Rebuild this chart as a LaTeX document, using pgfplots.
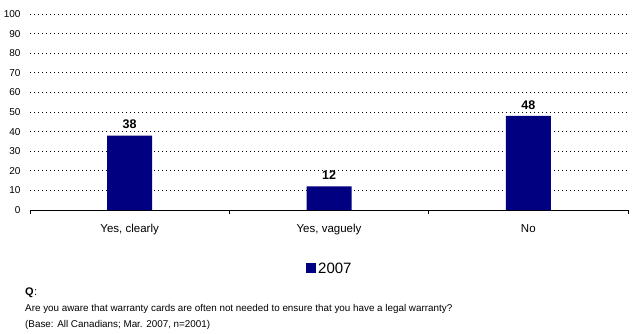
\documentclass[border=0pt]{standalone}
\usepackage{pgfplots}
\pgfplotsset{compat=1.18}
\usepackage{fontspec}
\setmainfont{Liberation Sans}
\definecolor{navybar}{RGB}{0,0,128}
\begin{document}
\begin{tikzpicture}
\useasboundingbox (0pt,0pt) rectangle (637pt,-333pt);
\begin{axis}[
  at={(30pt,-210pt)}, anchor=south west,
  scale only axis, width=598pt, height=196pt,
  xmin=-0.5, xmax=2.5, ymin=0, ymax=100,
  axis x line*=bottom, axis y line*=left,
  x axis line style={line width=0.8pt, -},
  y axis line style={draw=none},
  xtick={-0.5,0.5,1.5,2.5}, xticklabels={},
  extra x ticks={0,1,2}, extra x tick labels={{Yes, clearly},{Yes, vaguely},No},
  extra x tick style={major tick length=0pt, tick label style={font=\fontsize{11.5}{13}\selectfont, yshift=-11pt}},
  major tick length=4pt,
  x tick style={line width=0.8pt, black},
  y tick style={draw=none},
  tick align=outside,
  ytick={0,10,...,100},
  ymajorgrids, grid style={black, line width=0.8pt, dash pattern=on 1.4pt off 2.6pt},
  y tick label style={font=\fontsize{10}{12}\selectfont, xshift=-2pt},
  /pgf/number format/assume math mode=true,
  clip=false,
]
\addplot[ybar, bar width=45pt, fill=navybar, draw=none,
  nodes near coords, every node near coord/.append style={font=\bfseries\fontsize{12.5}{14}\selectfont, yshift=3pt, /pgf/number format/assume math mode=true}]
  coordinates {(0,38) (1,12) (2,48)};
\end{axis}
\fill[navybar] (306pt,-273pt) rectangle (316pt,-263pt);
\node[anchor=west, font=\fontsize{15}{17}\selectfont, inner sep=0pt] at (318pt,-268pt) {2007};
\node[anchor=base west, font=\bfseries\fontsize{11}{13}\selectfont, inner sep=0pt] at (25pt,-295pt) {Q};
\node[anchor=base west, font=\fontsize{11}{13}\selectfont, inner sep=0pt] at (34pt,-295pt) {:};
\node[anchor=base west, font=\fontsize{9.85}{12}\selectfont, inner sep=0pt] at (25pt,-311pt) {Are you aware that warranty cards are often not needed to ensure that you have a legal warranty?};
\node[anchor=base west, font=\fontsize{9.85}{12}\selectfont, inner sep=0pt] at (25pt,-327pt) {(Base: All Canadians; Mar. 2007, n=2001)};
\end{tikzpicture}
\end{document}
